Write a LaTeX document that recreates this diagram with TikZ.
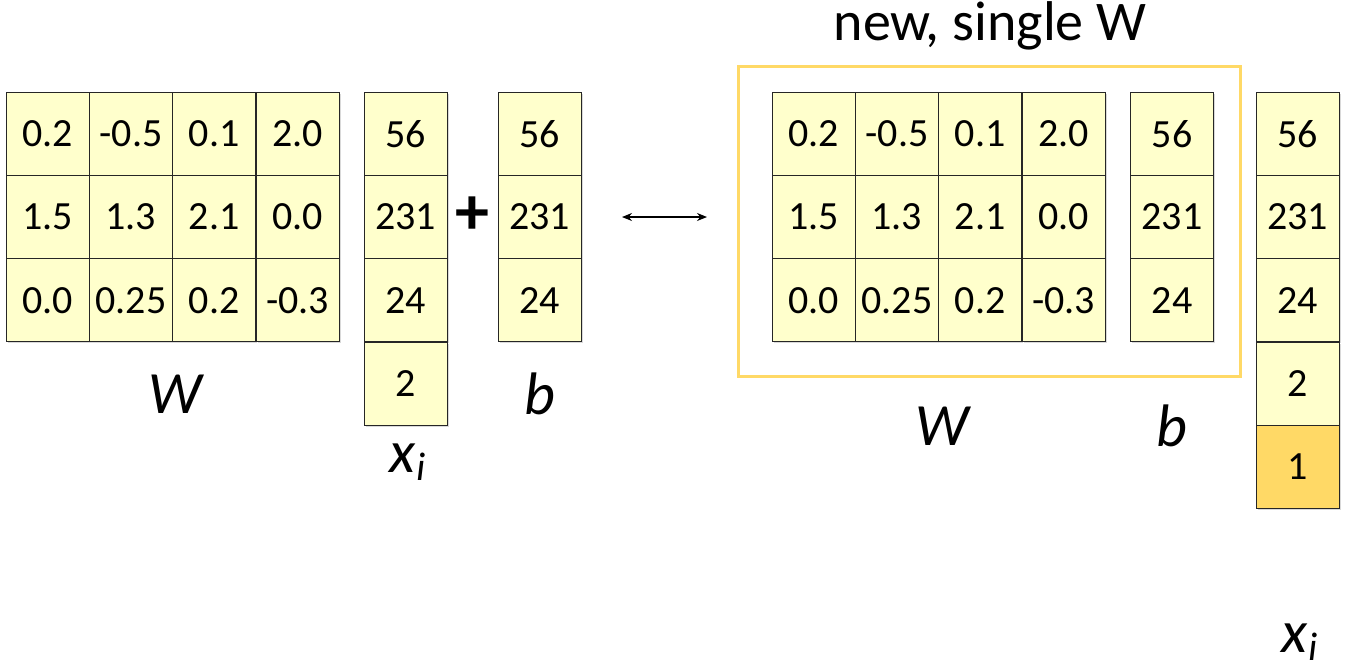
\documentclass[tikz,border=0pt]{standalone}
\usepackage{fontspec}
\setmainfont{Carlito}
\usetikzlibrary{positioning,shadows,arrows.meta}
\definecolor{cellfill}{HTML}{FFFFCC}
\definecolor{onefill}{HTML}{FFD966}
\definecolor{boxline}{HTML}{FFD966}

\begin{document}
\begin{tikzpicture}[x=0.5pt,y=-0.5pt,
    cell/.style={draw=black!85, fill=cellfill, minimum size=41.6pt, inner sep=0pt,
      font=\fontsize{20}{24}\selectfont,
      drop shadow={shadow xshift=0.8pt, shadow yshift=-0.8pt, opacity=0.3}},
    lbl/.style={font=\fontsize{30}{36}\selectfont\itshape},
    link/.style={{Stealth[length=5pt,width=4pt]}-{Stealth[length=5pt,width=4pt]}, line width=0.6pt}
  ]
  \useasboundingbox (0,0) rectangle (1345,671);

  % W on both sides
  \foreach \row [count=\r] in {{0.2,-0.5,0.1,2.0},{1.5,1.3,2.1,0.0},{0.0,0.25,0.2,-0.3}}
    \foreach \v [count=\c] in \row {
      \node[cell] (wl-\r-\c) at ({6+83.3*(\c-0.5)}, {92+83.3*(\r-0.5)}) {\v};
      \node[cell] (wr-\r-\c) at ({772+83.3*(\c-0.5)}, {92+83.3*(\r-0.5)}) {\v};
    }

  % x_i and b
  \foreach \v [count=\r] in {56,231,24,2} {
    \node[cell] (xl-\r) at (405.5, {92+83.3*(\r-0.5)}) {\v};
    \node[cell] (xr-\r) at (1297.5, {92+83.3*(\r-0.5)}) {\v};
  }
  \node[cell, fill=onefill] (xr-5) at (1297.5, {92+83.3*4.5}) {1};
  \foreach \v [count=\r] in {56,231,24} {
    \node[cell] (bl-\r) at (539.5, {92+83.3*(\r-0.5)}) {\v};
    \node[cell] (br-\r) at (1172, {92+83.3*(\r-0.5)}) {\v};
  }

  \node[font=\fontsize{34}{40}\selectfont\bfseries] (plus) at (472,216) {+};

  % labels
  \node[lbl] (wlbl) at (175,394) {W};
  \node[lbl] (blbl) at (540,394) {b};
  \node[lbl] (xlbl) at (408,462) {x\kern0.5pt\raisebox{-0.3ex}{\fontsize{20}{24}\selectfont i}};
  \node[lbl] (wrlbl) at (942,426) {W};
  \node[lbl] (brlbl) at (1172,426) {b};
  \node[lbl] (xrlbl) at (1300,642) {x\kern0.5pt\raisebox{-0.3ex}{\fontsize{20}{24}\selectfont i}};

  % new single W
  \draw[boxline, line width=1.5pt] (738,66) rectangle (1240,376);
  \node[font=\fontsize{28}{34}\selectfont] (title) at (990,26) {new, single W};

  \coordinate (arrl) at (622,217);
  \coordinate (arrr) at (707,217);
  \draw[link] (arrl) -- (arrr);
\end{tikzpicture}
\end{document}
